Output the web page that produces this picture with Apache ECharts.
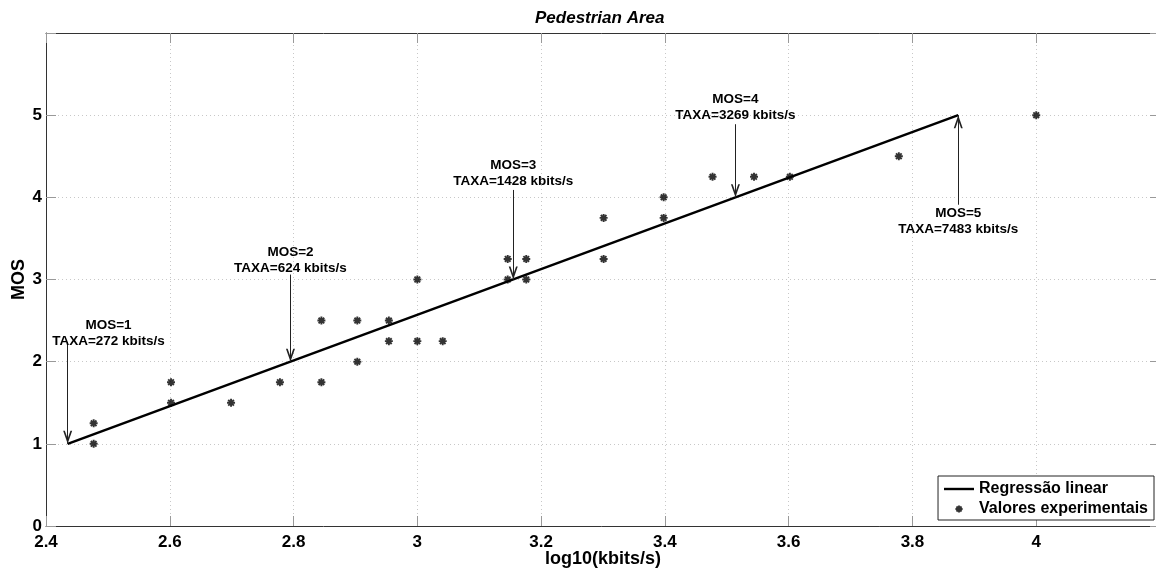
<!DOCTYPE html>
<html>
<head>
<meta charset="utf-8">
<script src="https://cdn.jsdelivr.net/npm/echarts@6/dist/echarts.min.js"></script>
<style>
html,body{margin:0;padding:0;background:#fff;}
#chart{width:1156px;height:569px;}
</style>
</head>
<body>
<div id="chart"></div>
<script>
// ---- data ----
const expX = [2.477,2.477,2.602,2.602,2.699,2.778,2.845,2.845,2.903,2.903,2.954,2.954,3.0,3.0,3.041,3.146,3.146,3.176,3.176,3.301,3.301,3.398,3.398,3.477,3.544,3.602,3.778,4.0];
const expMOS = [1.0,1.25,1.5,1.75,1.5,1.75,1.75,2.5,2.0,2.5,2.25,2.5,2.25,3.0,2.25,3.0,3.25,3.0,3.25,3.25,3.75,3.75,4.0,4.25,4.25,4.25,4.5,5.0];
const regX = [2.435, 3.874];
const regMOS = [1, 5];
const annX = [2.435, 2.795, 3.155, 3.514, 3.874];
const annMOS = [1, 2, 3, 4, 5];
const annRate = [272, 624, 1428, 3269, 7483];
const xTicks = [2.4, 2.6, 2.8, 3, 3.2, 3.4, 3.6, 3.8, 4];
const yTicks = [0, 1, 2, 3, 4, 5];

// ---- layout of annotations (data units) ----
const annTextX = [2.501, 2.795, 3.155, 3.514, 3.874];
const annTextY = [2.35, 3.235, 4.29, 5.1, 3.71];
const annTailY = [2.24, 3.06, 4.09, 4.89, 3.91];

const FONT = '"Liberation Sans", Arial, Helvetica, sans-serif';

function asterisk(cx, cy, r, w) {
  const h = w / 2;
  let s = '';
  [0, 45, 90, 135].forEach(a => {
    const t = a * Math.PI / 180;
    const dx = Math.cos(t), dy = Math.sin(t);
    const nx = -dy, ny = dx;
    const pts = [
      [cx - r*dx - h*nx, cy - r*dy - h*ny],
      [cx + r*dx - h*nx, cy + r*dy - h*ny],
      [cx + r*dx + h*nx, cy + r*dy + h*ny],
      [cx - r*dx + h*nx, cy - r*dy + h*ny]
    ].map(p => p[0].toFixed(2) + ',' + p[1].toFixed(2));
    s += 'M' + pts[0] + 'L' + pts[1] + 'L' + pts[2] + 'L' + pts[3] + 'Z';
  });
  return s;
}
const starSymbol = 'path://' + asterisk(5, 5, 5, 2.4);
const starLegend = 'path://M0,0M30,14' + asterisk(15, 7, 3.6, 1.9);
const lineLegend = 'path://M0,0M30,14M0,5.8L30,5.8L30,8.2L0,8.2Z';
const arrowHead = 'path://M0,0M26,26M13,13L17.5,26L15.8,26L13,18L10.2,26L8.5,26Z';

const chart = echarts.init(document.getElementById('chart'), null, {renderer: 'canvas'});

const axisCommonX = {
  type: 'value', min: 2.4, max: 4.2, interval: 0.2
};
const axisCommonY = {
  type: 'value', min: 0, max: 6, interval: 1
};

chart.setOption({
  animation: false,
  backgroundColor: '#ffffff',
  textStyle: {fontFamily: FONT},
  title: {
    text: 'Pedestrian Area',
    left: 535, top: 10, padding: 0,
    textStyle: {fontFamily: FONT, fontSize: 17, fontWeight: 'bold', fontStyle: 'italic', color: '#000'}
  },
  grid: {left: 46, top: 33, width: 1114, height: 493, containLabel: false, outerBoundsMode: 'none'},
  legend: {
    right: 2, bottom: 49,
    orient: 'vertical',
    align: 'left',
    backgroundColor: '#fff',
    borderColor: '#222', borderWidth: 1,
    padding: [5, 6, 3, 6],
    itemGap: 4,
    itemWidth: 30, itemHeight: 14,
    textStyle: {fontFamily: FONT, fontSize: 16, fontWeight: 'bold', color: '#000'},
    data: [
      {name: 'Regressão linear', icon: lineLegend, itemStyle: {color: '#000'}},
      {name: 'Valores experimentais', icon: starLegend, itemStyle: {color: '#000'}}
    ]
  },
  xAxis: [
    Object.assign({}, axisCommonX, {
      position: 'bottom',
      name: 'log10(kbits/s)', nameLocation: 'middle', nameGap: 24, nameMoveOverlap: false,
      nameTextStyle: {fontFamily: FONT, fontSize: 18, fontWeight: 'bold', color: '#000'},
      axisLine: {show: true, onZero: false, lineStyle: {color: '#333', width: 1}},
      axisTick: {show: true, inside: true, length: 10, lineStyle: {color: '#999', width: 1}},
      axisLabel: {
        show: true, margin: 8,
        fontFamily: FONT, fontSize: 17, fontWeight: 'bold', color: '#000',
        formatter: v => (xTicks.some(t => Math.abs(t - v) < 1e-6) ? String(+v.toFixed(1)) : '')
      },
      splitLine: {show: true, lineStyle: {color: '#c8c8c8', type: [1, 3], width: 1}}
    }),
    Object.assign({}, axisCommonX, {
      position: 'top',
      axisLine: {show: true, onZero: false, lineStyle: {color: '#333', width: 1}},
      axisTick: {show: true, inside: true, length: 10, lineStyle: {color: '#999', width: 1}},
      axisLabel: {show: false},
      splitLine: {show: false}
    })
  ],
  yAxis: [
    Object.assign({}, axisCommonY, {
      position: 'left',
      name: 'MOS', nameLocation: 'middle', nameGap: 18, nameRotate: 90, nameMoveOverlap: false,
      nameTextStyle: {fontFamily: FONT, fontSize: 18, fontWeight: 'bold', color: '#000'},
      axisLine: {show: true, onZero: false, lineStyle: {color: '#333', width: 1}},
      axisTick: {show: true, inside: true, length: 10, lineStyle: {color: '#999', width: 1}},
      axisLabel: {
        show: true, margin: 4,
        fontFamily: FONT, fontSize: 17, fontWeight: 'bold', color: '#000',
        formatter: v => (yTicks.indexOf(v) >= 0 ? String(v) : '')
      },
      splitLine: {show: true, lineStyle: {color: '#c8c8c8', type: [1, 3], width: 1}}
    }),
    Object.assign({}, axisCommonY, {
      position: 'right',
      axisLine: {show: true, onZero: false, lineStyle: {color: '#333', width: 1}},
      axisTick: {show: true, inside: true, length: 10, lineStyle: {color: '#999', width: 1}},
      axisLabel: {show: false},
      splitLine: {show: false}
    })
  ],
  series: [
    {
      name: 'Regressão linear',
      type: 'line',
      xAxisIndex: 0, yAxisIndex: 0,
      data: regX.map((x, i) => [x, regMOS[i]]),
      symbol: 'none',
      lineStyle: {color: '#000', width: 2.5},
      itemStyle: {color: '#000'},
      silent: true,
      z: 3
    },
    {
      name: 'Valores experimentais',
      type: 'scatter',
      xAxisIndex: 0, yAxisIndex: 0,
      data: expX.map((x, i) => [x, expMOS[i]]),
      symbol: starSymbol,
      symbolSize: 8,
      itemStyle: {color: '#000'},
      silent: true,
      z: 4
    },
    {
      name: 'annotations',
      type: 'scatter',
      xAxisIndex: 0, yAxisIndex: 0,
      data: annTextX.map((x, i) => [x, annTextY[i]]),
      symbolSize: 0,
      itemStyle: {color: '#000'},
      silent: true,
      z: 5,
      label: {
        show: true, position: 'inside',
        fontFamily: FONT, fontSize: 13.5, fontWeight: 'bold', color: '#000',
        textBorderWidth: 0, opacity: 1,
        lineHeight: 16, align: 'center', verticalAlign: 'middle',
        formatter: p => 'MOS=' + annMOS[p.dataIndex] + '\nTAXA=' + annRate[p.dataIndex] + ' kbits/s'
      },
      markLine: {
        silent: true,
        symbol: ['none', arrowHead],
        symbolSize: 26,
        label: {show: false},
        lineStyle: {color: '#222', width: 1, type: 'solid'},
        emphasis: {disabled: true},
        data: annX.map((x, i) => [
          {coord: [x, annTailY[i]]},
          {coord: [x, annMOS[i]]}
        ])
      }
    }
  ]
});
</script>
</body>
</html>
